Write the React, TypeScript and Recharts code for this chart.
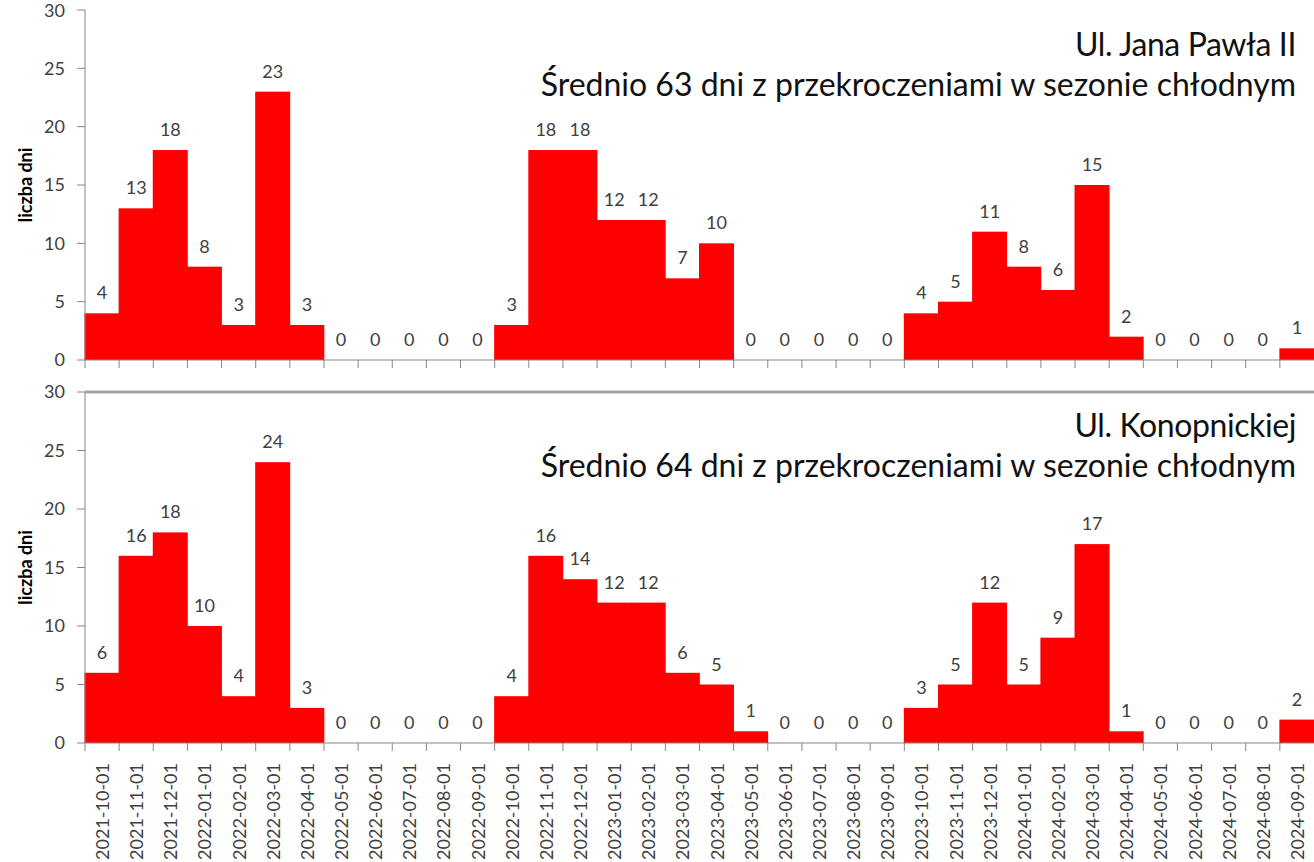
import React from 'react';
import { ComposedChart, Bar, Line, XAxis, YAxis, LabelList, ReferenceLine } from 'recharts';

const categories = [
  '2021-10-01', '2021-11-01', '2021-12-01', '2022-01-01', '2022-02-01', '2022-03-01',
  '2022-04-01', '2022-05-01', '2022-06-01', '2022-07-01', '2022-08-01', '2022-09-01',
  '2022-10-01', '2022-11-01', '2022-12-01', '2023-01-01', '2023-02-01', '2023-03-01',
  '2023-04-01', '2023-05-01', '2023-06-01', '2023-07-01', '2023-08-01', '2023-09-01',
  '2023-10-01', '2023-11-01', '2023-12-01', '2024-01-01', '2024-02-01', '2024-03-01',
  '2024-04-01', '2024-05-01', '2024-06-01', '2024-07-01', '2024-08-01', '2024-09-01',
];

// Ul. Jana Pawła II
const janaPawla = [4, 13, 18, 8, 3, 23, 3, 0, 0, 0, 0, 0, 3, 18, 18, 12, 12, 7, 10, 0, 0, 0, 0, 0, 4, 5, 11, 8, 6, 15, 2, 0, 0, 0, 0, 1];
// Ul. Konopnickiej
const konopnickiej = [6, 16, 18, 10, 4, 24, 3, 0, 0, 0, 0, 0, 4, 16, 14, 12, 12, 6, 5, 1, 0, 0, 0, 0, 3, 5, 12, 5, 9, 17, 1, 0, 0, 0, 0, 2];

const yTicks = [0, 5, 10, 15, 20, 25, 30];

const data = categories.map((date, i) => ({ date, jp: janaPawla[i], ko: konopnickiej[i] }));

const W = 1314;
const AXIS_W = 85;
const BAND = (W - AXIS_W) / categories.length;
const FONT = 'Lato, "Open Sans", sans-serif';
const GRAY = '#404040';
const LINE = '#868686';

const XTick = (props: any) => {
  const { x, y, payload, showLabel } = props;
  const ly = y + 20;
  return (
    <g>
      <line x1={x - BAND / 2} x2={x - BAND / 2} y1={y} y2={y + 8} stroke={LINE} />
      {showLabel && (
        <text
          x={x}
          y={ly}
          transform={`rotate(-90, ${x}, ${ly})`}
          textAnchor="end"
          dominantBaseline="central"
          fill={GRAY}
          fontSize={18}
          fontFamily={FONT}
        >
          {payload.value}
        </text>
      )}
    </g>
  );
};

const YTitle = (props: any) => {
  const vb = props.viewBox;
  const cy = vb.y + vb.height / 2;
  return (
    <text
      x={25}
      y={cy}
      transform={`rotate(-90, 25, ${cy})`}
      textAnchor="middle"
      dominantBaseline="central"
      fontWeight="bold"
      fontSize={18}
      fontFamily={FONT}
      fill="#000"
    >
      liczba dni
    </text>
  );
};

// bars touch each other in the original, so overlap them half a pixel to hide seams
const RedBar = (props: any) => {
  const { x, y, width, height } = props;
  if (!height || height <= 0) return null;
  return <rect x={x - 0.5} y={y} width={width + 1} height={height} fill="#ff0000" />;
};

const Panel = ({ dataKey, height, margin, showLabels, axisH }: any) => (
  <ComposedChart width={W} height={height} data={data} margin={margin} barCategoryGap={0}>
    <XAxis
      dataKey="date"
      interval={0}
      tickLine={false}
      tickSize={0}
      tickMargin={0}
      height={axisH}
      axisLine={{ stroke: LINE }}
      tick={<XTick showLabel={showLabels} />}
    />
    <YAxis
      domain={[0, 30]}
      ticks={yTicks}
      width={AXIS_W}
      tickSize={8}
      tickMargin={12}
      axisLine={{ stroke: LINE }}
      tickLine={{ stroke: LINE }}
      tick={{ fill: GRAY, fontSize: 18, fontFamily: FONT }}
      label={{ content: YTitle }}
    />
    {showLabels && <ReferenceLine y={30} stroke="#a6a6a6" strokeWidth={3} />}
    <Bar dataKey={dataKey} fill="#ff0000" shape={RedBar} isAnimationActive={false} />
    {/* invisible line only carries the value labels, so zeros get a label too */}
    <Line dataKey={dataKey} stroke="none" dot={false} activeDot={false} isAnimationActive={false}>
      <LabelList dataKey={dataKey} position="top" offset={14} fill={GRAY} fontSize={18} fontFamily={FONT} />
    </Line>
  </ComposedChart>
);

const noteStyle: React.CSSProperties = {
  position: 'absolute',
  right: 18,
  fontFamily: FONT,
  fontSize: 32,
  color: '#111',
  textAlign: 'right',
  whiteSpace: 'nowrap',
  lineHeight: '40px',
};

const titleStyle: React.CSSProperties = { ...noteStyle, letterSpacing: -0.4 };

export default function App() {
  return (
    <div style={{ position: 'absolute', left: 0, top: 0, width: W, height: 862, background: '#fff', overflow: 'hidden' }}>
      <Panel dataKey="jp" height={375} margin={{ top: 10, right: 0, left: 0, bottom: 0 }} showLabels={false} axisH={15} />
      <div style={{ position: 'absolute', left: 0, top: 375 }}>
        <Panel dataKey="ko" height={487} margin={{ top: 17, right: 0, left: 0, bottom: 0 }} showLabels axisH={119} />
      </div>
      <div style={{ ...titleStyle, top: 24 }}>Ul. Jana Pawła II</div>
      <div style={{ ...noteStyle, top: 64 }}>Średnio 63 dni z przekroczeniami w sezonie chłodnym</div>
      <div style={{ ...titleStyle, top: 405 }}>Ul. Konopnickiej</div>
      <div style={{ ...noteStyle, top: 445 }}>Średnio 64 dni z przekroczeniami w sezonie chłodnym</div>
    </div>
  );
}
